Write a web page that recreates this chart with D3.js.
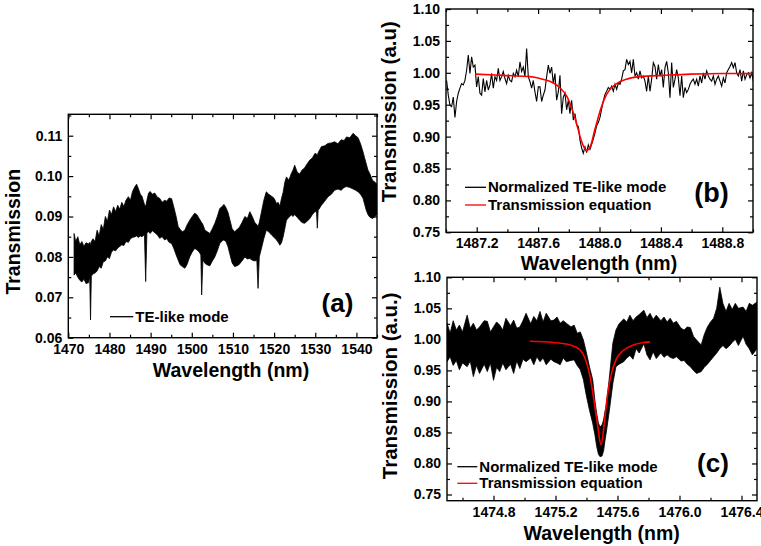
<!DOCTYPE html>
<html>
<head>
<meta charset="utf-8">
<script src="https://cdn.jsdelivr.net/npm/d3@7"></script>
<style>
  body { margin: 0; background: #fff; }
  svg text { font-family: "Liberation Sans", Arial, sans-serif; font-weight: bold; fill: #000; }
</style>
</head>
<body>
<div id="chart"></div>
<script>
// ---------- panel (a): TE-like mode, upper / lower edge of the noise band ----------
var aWavelength = [
  1471.4, 1471.8, 1472.3, 1472.8, 1473.3, 1473.8, 1474.3, 1474.9, 1475.2, 1475.4,
  1475.6, 1476.0, 1476.5, 1477.0, 1477.5, 1478.0, 1478.5, 1479.0, 1479.5, 1480.0,
  1480.5, 1481.0, 1481.5, 1482.0, 1482.5, 1483.0, 1483.5, 1484.0, 1484.6, 1485.1,
  1485.6, 1486.2, 1486.6, 1487.0, 1487.5, 1487.9, 1488.5, 1488.8, 1489.1, 1489.5,
  1489.9, 1490.4, 1491.0, 1491.6, 1492.2, 1492.8, 1493.4, 1493.9, 1494.5, 1495.1,
  1495.6, 1496.2, 1496.7, 1497.2, 1497.7, 1498.3, 1498.8, 1499.5, 1500.1, 1500.7,
  1501.2, 1501.8, 1502.2, 1502.4, 1502.7, 1503.2, 1503.8, 1504.4, 1505.0, 1505.6,
  1506.2, 1506.8, 1507.4, 1507.8, 1508.3, 1508.8, 1509.3, 1509.8, 1510.4, 1511.0,
  1511.5, 1512.2, 1512.9, 1513.5, 1514.1, 1514.7, 1515.3, 1515.8, 1516.1, 1516.4,
  1516.9, 1517.5, 1518.1, 1518.7, 1519.4, 1520.0, 1520.6, 1521.0, 1521.4, 1521.8,
  1522.2, 1522.6, 1523.0, 1523.6, 1524.2, 1524.6, 1525.0, 1525.6, 1526.2, 1526.8,
  1527.4, 1528.0, 1528.7, 1529.3, 1529.9, 1530.3, 1530.5, 1530.7, 1531.5, 1532.3,
  1533.1, 1533.9, 1534.7, 1535.5, 1536.3, 1537.0, 1537.6, 1538.4, 1539.2, 1539.8,
  1540.4, 1541.0, 1541.6, 1542.0, 1542.4, 1542.8, 1543.2, 1543.9, 1544.5, 1545.0
];
var aUpper = [
  0.0858, 0.0838, 0.0850, 0.0830, 0.0838, 0.0826, 0.0835, 0.0832, 0.0836, 0.0830,
  0.0838, 0.0845, 0.0838, 0.0866, 0.0852, 0.0880, 0.0868, 0.0900, 0.0888, 0.0916,
  0.0905, 0.0924, 0.0912, 0.0928, 0.0918, 0.0935, 0.0925, 0.0940, 0.0949, 0.0940,
  0.0962, 0.0974, 0.0980, 0.0970, 0.0955, 0.0950, 0.0930, 0.0925, 0.0940, 0.0958,
  0.0962, 0.0955, 0.0958, 0.0948, 0.0945, 0.0935, 0.0940, 0.0938, 0.0946, 0.0944,
  0.0925, 0.0900, 0.0875, 0.0868, 0.0862, 0.0866, 0.0878, 0.0891, 0.0900, 0.0908,
  0.0905, 0.0895, 0.0888, 0.0885, 0.0880, 0.0866, 0.0862, 0.0858, 0.0870, 0.0883,
  0.0900, 0.0920, 0.0925, 0.0930, 0.0922, 0.0910, 0.0890, 0.0870, 0.0862, 0.0868,
  0.0872, 0.0885, 0.0900, 0.0895, 0.0912, 0.0900, 0.0885, 0.0880, 0.0875, 0.0885,
  0.0910, 0.0940, 0.0961, 0.0955, 0.0950, 0.0945, 0.0932, 0.0935, 0.0925, 0.0945,
  0.0960, 0.0985, 0.0998, 0.0990, 0.1007, 0.1015, 0.1027, 0.1010, 0.1005, 0.1015,
  0.1020, 0.1030, 0.1040, 0.1045, 0.1056, 0.1055, 0.1050, 0.1058, 0.1073, 0.1075,
  0.1081, 0.1082, 0.1085, 0.1080, 0.1090, 0.1088, 0.1097, 0.1095, 0.1106, 0.1100,
  0.1095, 0.1080, 0.1060, 0.1045, 0.1030, 0.1015, 0.1007, 0.0990, 0.0985, 0.0980
];
var aLower = [
  0.0755, 0.0760, 0.0750, 0.0742, 0.0738, 0.0745, 0.0734, 0.0736, 0.0750, 0.0644,
  0.0752, 0.0758, 0.0760, 0.0765, 0.0776, 0.0772, 0.0788, 0.0790, 0.0800, 0.0796,
  0.0812, 0.0817, 0.0815, 0.0822, 0.0826, 0.0830, 0.0828, 0.0838, 0.0836, 0.0845,
  0.0848, 0.0850, 0.0852, 0.0848, 0.0852, 0.0850, 0.0855, 0.0739, 0.0860, 0.0862,
  0.0858, 0.0865, 0.0860, 0.0855, 0.0846, 0.0850, 0.0842, 0.0845, 0.0836, 0.0833,
  0.0822, 0.0805, 0.0792, 0.0780, 0.0776, 0.0772, 0.0780, 0.0800, 0.0812, 0.0821,
  0.0818, 0.0812, 0.0805, 0.0706, 0.0792, 0.0784, 0.0780, 0.0778, 0.0790, 0.0800,
  0.0815, 0.0833, 0.0840, 0.0842, 0.0838, 0.0825, 0.0805, 0.0785, 0.0776, 0.0778,
  0.0781, 0.0790, 0.0800, 0.0795, 0.0796, 0.0792, 0.0790, 0.0792, 0.0722, 0.0800,
  0.0820, 0.0845, 0.0866, 0.0862, 0.0854, 0.0848, 0.0842, 0.0836, 0.0829, 0.0835,
  0.0850, 0.0870, 0.0891, 0.0898, 0.0904, 0.0900, 0.0905, 0.0898, 0.0891, 0.0885,
  0.0883, 0.0888, 0.0895, 0.0905, 0.0912, 0.0912, 0.0871, 0.0915, 0.0928, 0.0938,
  0.0949, 0.0955, 0.0965, 0.0968, 0.0965, 0.0972, 0.0974, 0.0972, 0.0968, 0.0965,
  0.0961, 0.0955, 0.0945, 0.0930, 0.0915, 0.0905, 0.0899, 0.0895, 0.0900, 0.0905
];

// ---------- panel (b): normalized trace sampled every bStep nm from bStart ----------
var bStart = 1487.004;
var bStep = 0.01086;
var bNormalized = [
  0.988, 0.965, 0.949, 0.947, 0.962, 0.930, 0.955, 0.968, 0.976, 0.983,
  0.981, 0.988, 1.004, 1.028, 0.999, 1.025, 1.009, 1.012, 0.978, 0.994,
  0.968, 0.965, 0.991, 0.970, 0.988, 0.973, 0.981, 0.999, 0.976, 0.994,
  0.988, 1.007, 0.988, 0.994, 1.002, 0.991, 0.983, 0.996, 0.988, 0.986,
  0.999, 0.994, 1.004, 0.994, 1.017, 1.002, 1.009, 0.994, 1.038, 0.994,
  0.986, 0.976, 0.988, 0.970, 0.955, 0.978, 0.978, 0.955, 0.965, 0.973,
  0.994, 1.012, 0.999, 1.009, 0.983, 0.999, 0.957, 0.970, 0.996, 0.936,
  0.962, 0.968, 0.942, 0.957, 0.936, 0.957, 0.926, 0.936, 0.918, 0.916,
  0.895, 0.882, 0.874, 0.884, 0.875, 0.887,
  0.880, 0.888, 0.896, 0.906, 0.917, 0.922, 0.930, 0.943, 0.956, 0.966,
  0.971, 0.977, 0.974, 0.979, 0.971, 0.982, 0.974, 0.984, 0.982, 0.990,
  1.003, 1.005, 1.021, 1.013, 1.018, 1.000, 1.021, 0.995, 1.000, 0.990,
  1.003, 0.992, 0.995, 0.987, 0.971, 0.995, 0.971, 0.990, 1.016, 1.010,
  0.990, 1.013, 0.995, 1.005, 0.977, 1.008, 1.018, 1.000, 0.961, 1.016,
  0.977, 0.990, 1.005, 0.992, 0.964, 0.995, 0.961, 0.977, 0.969, 0.974,
  0.982, 0.987, 0.990, 0.982, 0.990, 0.979, 0.995, 0.984, 1.000, 0.990,
  1.003, 0.995, 0.990, 0.987, 0.995, 0.982, 0.990, 0.995, 0.987, 0.979,
  0.992, 0.984, 1.000, 1.005, 1.010, 1.016, 1.008, 1.016, 1.000, 0.995,
  1.005, 0.987, 1.003, 0.990, 0.997, 1.000, 0.992, 1.000, 0.987
];
var bFitWavelength = [1487.19, 1487.37, 1487.55, 1487.63, 1487.70, 1487.74, 1487.79, 1487.82,
  1487.85, 1487.88, 1487.916, 1487.938, 1487.97, 1488.00, 1488.036, 1488.068, 1488.112,
  1488.177, 1488.264, 1488.416, 1488.59, 1488.807, 1489.0];
var bFit = [0.998, 0.996, 0.994, 0.990, 0.984, 0.977, 0.962, 0.944,
  0.921, 0.895, 0.878, 0.883, 0.911, 0.937, 0.961, 0.974, 0.983,
  0.990, 0.994, 0.996, 0.998, 0.999, 0.999];

// ---------- panel (c): upper / lower edge of the noise band ----------
var cWavelength = [
  1474.50, 1474.52, 1474.54, 1474.56, 1474.58, 1474.60, 1474.63, 1474.65, 1474.67, 1474.69,
  1474.71, 1474.74, 1474.76, 1474.78, 1474.80, 1474.82, 1474.84, 1474.86, 1474.88, 1474.91,
  1474.93, 1474.95, 1474.97, 1474.99, 1475.01, 1475.04, 1475.06, 1475.08, 1475.10, 1475.12,
  1475.14, 1475.17, 1475.19, 1475.21, 1475.23, 1475.25, 1475.27, 1475.30, 1475.32, 1475.34,
  1475.36, 1475.38, 1475.40, 1475.42, 1475.44, 1475.455, 1475.466, 1475.477, 1475.487, 1475.50,
  1475.51, 1475.52, 1475.53, 1475.55, 1475.57, 1475.59, 1475.61, 1475.64, 1475.66, 1475.68,
  1475.70, 1475.72, 1475.74, 1475.77, 1475.79, 1475.81, 1475.83, 1475.85, 1475.88, 1475.90,
  1475.92, 1475.94, 1475.96, 1475.98, 1476.01, 1476.03, 1476.05, 1476.07, 1476.09, 1476.11,
  1476.14, 1476.16, 1476.18, 1476.20, 1476.22, 1476.24, 1476.26, 1476.28, 1476.30, 1476.32,
  1476.34, 1476.36, 1476.38, 1476.41, 1476.43, 1476.45, 1476.47, 1476.50
];
var cUpper = [
  1.026, 1.010, 1.030, 1.015, 1.023, 1.012, 1.039, 1.018, 1.026, 1.015,
  1.020, 1.030, 1.029, 1.012, 1.020, 1.028, 1.023, 1.015, 1.034, 1.022,
  1.031, 1.018, 1.020, 1.030, 1.042, 1.025, 1.037, 1.030, 1.045, 1.028,
  1.042, 1.030, 1.031, 1.036, 1.026, 1.030, 1.026, 1.020, 1.023, 1.010,
  1.012, 0.999, 0.978, 0.955, 0.935, 0.900, 0.880, 0.865, 0.859, 0.862,
  0.870, 0.885, 0.897, 0.945, 0.994, 1.015, 1.025, 1.033, 1.028, 1.039,
  1.030, 1.036, 1.040, 1.047, 1.035, 1.042, 1.032, 1.039, 1.030, 1.036,
  1.028, 1.034, 1.026, 1.029, 1.018, 1.015, 1.020, 1.019, 1.005, 0.999,
  0.991, 1.008, 1.020, 1.028, 1.034, 1.050, 1.084, 1.058, 1.045, 1.058,
  1.048, 1.058, 1.050, 1.052, 1.045, 1.058, 1.055, 1.060
];
var cLower = [
  0.964, 0.972, 0.958, 0.966, 0.951, 0.962, 0.956, 0.965, 0.940, 0.958,
  0.945, 0.960, 0.948, 0.962, 0.934, 0.955, 0.948, 0.962, 0.951, 0.960,
  0.945, 0.965, 0.953, 0.968, 0.964, 0.970, 0.959, 0.972, 0.964, 0.970,
  0.959, 0.968, 0.964, 0.962, 0.959, 0.970, 0.964, 0.966, 0.967, 0.958,
  0.951, 0.935, 0.908, 0.885, 0.865, 0.845, 0.827, 0.815, 0.811, 0.812,
  0.820, 0.838, 0.854, 0.890, 0.929, 0.956, 0.960, 0.964, 0.970, 0.974,
  0.968, 0.985, 0.978, 0.993, 0.975, 0.967, 0.980, 0.969, 0.978, 0.971,
  0.975, 0.971, 0.969, 0.972, 0.965, 0.966, 0.960, 0.956, 0.950, 0.945,
  0.948, 0.955, 0.960, 0.966, 0.972, 0.978, 0.985, 0.990, 0.985, 0.989,
  0.995, 1.000, 0.990, 1.005, 0.992, 0.985, 0.975, 0.985
];
var cFitWavelength = [1475.035, 1475.186, 1475.294, 1475.358, 1475.39, 1475.423, 1475.448,
  1475.47, 1475.494, 1475.515, 1475.534, 1475.556, 1475.59, 1475.638, 1475.702, 1475.767, 1475.81];
var cFit = [0.997, 0.995, 0.991, 0.983, 0.970, 0.940, 0.902,
  0.865, 0.830, 0.865, 0.908, 0.940, 0.967, 0.982, 0.991, 0.995, 0.996];

var svg = d3.select("#chart")
  .append("svg")
  .attr("width", 761)
  .attr("height", 546);

// frame, mirrored inward ticks, tick labels and clip for one panel
function drawPanel(p) {
  var x = d3.scaleLinear().domain(p.xDomain).range([p.left, p.right]);
  var y = d3.scaleLinear().domain(p.yDomain).range([p.bottom, p.top]);
  var g = svg.append("g");

  function strip(sel) {
    sel.select(".domain").remove();
    sel.selectAll("line").attr("stroke-width", 1.2);
  }

  // bottom and left: major ticks with labels
  g.append("g")
    .attr("transform", `translate(0, ${p.bottom})`)
    .call(d3.axisBottom(x).tickValues(p.xMajor).tickSize(-5).tickPadding(p.xPad)
      .tickFormat(d3.format(p.xFormat)))
    .call(strip)
    .selectAll("text").style("font-size", "14px");
  g.append("g")
    .attr("transform", `translate(${p.left}, 0)`)
    .call(d3.axisLeft(y).tickValues(p.yMajor).tickSize(-5).tickPadding(6)
      .tickFormat(d3.format(p.yFormat)))
    .call(strip)
    .selectAll("text").style("font-size", "14px");

  // top and right: major ticks, no labels
  g.append("g")
    .attr("transform", `translate(0, ${p.top})`)
    .call(d3.axisTop(x).tickValues(p.xMajor).tickSize(-5).tickFormat(""))
    .call(strip);
  g.append("g")
    .attr("transform", `translate(${p.right}, 0)`)
    .call(d3.axisRight(y).tickValues(p.yMajor).tickSize(-5).tickFormat(""))
    .call(strip);

  // minor ticks on all four sides
  g.append("g").attr("transform", `translate(0, ${p.bottom})`)
    .call(d3.axisBottom(x).tickValues(p.xMinor).tickSize(-3).tickFormat("")).call(strip);
  g.append("g").attr("transform", `translate(0, ${p.top})`)
    .call(d3.axisTop(x).tickValues(p.xMinor).tickSize(-3).tickFormat("")).call(strip);
  g.append("g").attr("transform", `translate(${p.left}, 0)`)
    .call(d3.axisLeft(y).tickValues(p.yMinor).tickSize(-3).tickFormat("")).call(strip);
  g.append("g").attr("transform", `translate(${p.right}, 0)`)
    .call(d3.axisRight(y).tickValues(p.yMinor).tickSize(-3).tickFormat("")).call(strip);

  svg.append("clipPath")
    .attr("id", p.id)
    .append("rect")
    .attr("x", p.left).attr("y", p.top)
    .attr("width", p.right - p.left).attr("height", p.bottom - p.top);

  var plot = svg.append("g").attr("clip-path", `url(#${p.id})`);

  // frame drawn after the data
  var frame = function() {
    svg.append("rect")
      .attr("x", p.left).attr("y", p.top)
      .attr("width", p.right - p.left).attr("height", p.bottom - p.top)
      .attr("fill", "none")
      .attr("stroke", "#000")
      .attr("stroke-width", 1.4);
  };

  return { x: x, y: y, plot: plot, frame: frame };
}

function addText(str, x, y, size, rotate, anchor) {
  var t = svg.append("text")
    .attr("text-anchor", anchor || "middle")
    .style("font-size", size + "px")
    .text(str);
  if (rotate) {
    t.attr("transform", `translate(${x}, ${y}) rotate(-90)`);
  } else {
    t.attr("x", x).attr("y", y);
  }
  return t;
}

function legendRow(x1, x2, y, color, label) {
  svg.append("line")
    .attr("x1", x1).attr("x2", x2)
    .attr("y1", y).attr("y2", y)
    .attr("stroke", color)
    .attr("stroke-width", 1.3);
  addText(label, x2 + 2, y + 5, 15, false, "start");
}

// ================= panel (a) =================
var pa = drawPanel({
  id: "clipA", left: 68.3, right: 377, top: 114.3, bottom: 337.7,
  xDomain: [1470, 1545], yDomain: [0.06, 0.1153],
  xMajor: d3.range(1470, 1541, 10), xMinor: d3.range(1475, 1546, 10),
  yMajor: [0.06, 0.07, 0.08, 0.09, 0.10, 0.11], yMinor: [0.065, 0.075, 0.085, 0.095, 0.105, 0.115],
  xFormat: "d", yFormat: ".2f", xPad: 6
});

var aBand = aWavelength.map((w, i) => ({ w: w, hi: aUpper[i], lo: aLower[i] }));
pa.plot.append("path")
  .datum(aBand)
  .attr("d", d3.area().x(d => pa.x(d.w)).y0(d => pa.y(d.lo)).y1(d => pa.y(d.hi)))
  .attr("fill", "#000")
  .attr("stroke", "#000")
  .attr("stroke-width", 0.8);
pa.frame();

addText("Transmission", 20, 231.7, 19.5, true);
addText("Wavelength (nm)", 231, 377, 19.5);
legendRow(110, 133.3, 316.7, "#000", "TE-like mode");
addText("(a)", 337.5, 312, 26);

// ================= panel (b) =================
var pb = drawPanel({
  id: "clipB", left: 446, right: 753, top: 9, bottom: 232.3,
  xDomain: [1487.0, 1489.0], yDomain: [0.75, 1.10],
  xMajor: [1487.2, 1487.6, 1488.0, 1488.4, 1488.8], xMinor: [1487.0, 1487.4, 1487.8, 1488.2, 1488.6, 1489.0],
  yMajor: [0.75, 0.80, 0.85, 0.90, 0.95, 1.00, 1.05, 1.10],
  yMinor: [0.775, 0.825, 0.875, 0.925, 0.975, 1.025, 1.075],
  xFormat: ".1f", yFormat: ".2f", xPad: 6
});

var bTrace = bNormalized.map((v, i) => ({ w: bStart + i * bStep, v: v }));
pb.plot.append("path")
  .datum(bTrace)
  .attr("d", d3.line().x(d => pb.x(d.w)).y(d => pb.y(d.v)))
  .attr("fill", "none")
  .attr("stroke", "#000")
  .attr("stroke-width", 1.1);

var bFitData = bFitWavelength.map((w, i) => ({ w: w, v: bFit[i] }));
pb.plot.append("path")
  .datum(bFitData)
  .attr("d", d3.line().curve(d3.curveMonotoneX).x(d => pb.x(d.w)).y(d => pb.y(d.v)))
  .attr("fill", "none")
  .attr("stroke", "#ff0000")
  .attr("stroke-width", 1.6);
pb.frame();

addText("Transmission (a.u)", 396, 111.7, 20.5, true);
addText("Wavelength (nm)", 599, 269.5, 19.5);
legendRow(465, 486, 187.3, "#000", "Normalized TE-like mode");
legendRow(465, 486, 205, "#ff0000", "Transmission equation");
addText("(b)", 711.5, 201.5, 27);

// ================= panel (c) =================
var pc = drawPanel({
  id: "clipC", left: 447, right: 757, top: 277.3, bottom: 500.7,
  xDomain: [1474.5, 1476.5], yDomain: [0.74, 1.10],
  xMajor: [1474.8, 1475.2, 1475.6, 1476.0, 1476.4], xMinor: [1474.6, 1475.0, 1475.4, 1475.8, 1476.2],
  yMajor: [0.75, 0.80, 0.85, 0.90, 0.95, 1.00, 1.05, 1.10],
  yMinor: [0.775, 0.825, 0.875, 0.925, 0.975, 1.025, 1.075],
  xFormat: ".1f", yFormat: ".2f", xPad: 6
});

var cBand = cWavelength.map((w, i) => ({ w: w, hi: cUpper[i], lo: cLower[i] }));
pc.plot.append("path")
  .datum(cBand)
  .attr("d", d3.area().x(d => pc.x(d.w)).y0(d => pc.y(d.lo)).y1(d => pc.y(d.hi)))
  .attr("fill", "#000")
  .attr("stroke", "#000")
  .attr("stroke-width", 0.8);

var cFitData = cFitWavelength.map((w, i) => ({ w: w, v: cFit[i] }));
pc.plot.append("path")
  .datum(cFitData)
  .attr("d", d3.line().curve(d3.curveMonotoneX).x(d => pc.x(d.w)).y(d => pc.y(d.v)))
  .attr("fill", "none")
  .attr("stroke", "#ff0000")
  .attr("stroke-width", 1.6);
pc.frame();

addText("Transmission (a.u.)", 396.7, 385.8, 20.5, true);
addText("Wavelength (nm)", 601.7, 539.5, 19.5);
legendRow(457.3, 477.3, 466.7, "#000", "Normalized TE-like mode");
legendRow(457.3, 477.3, 483.3, "#ff0000", "Transmission equation");
addText("(c)", 713, 472, 26);
</script>
</body>
</html>
